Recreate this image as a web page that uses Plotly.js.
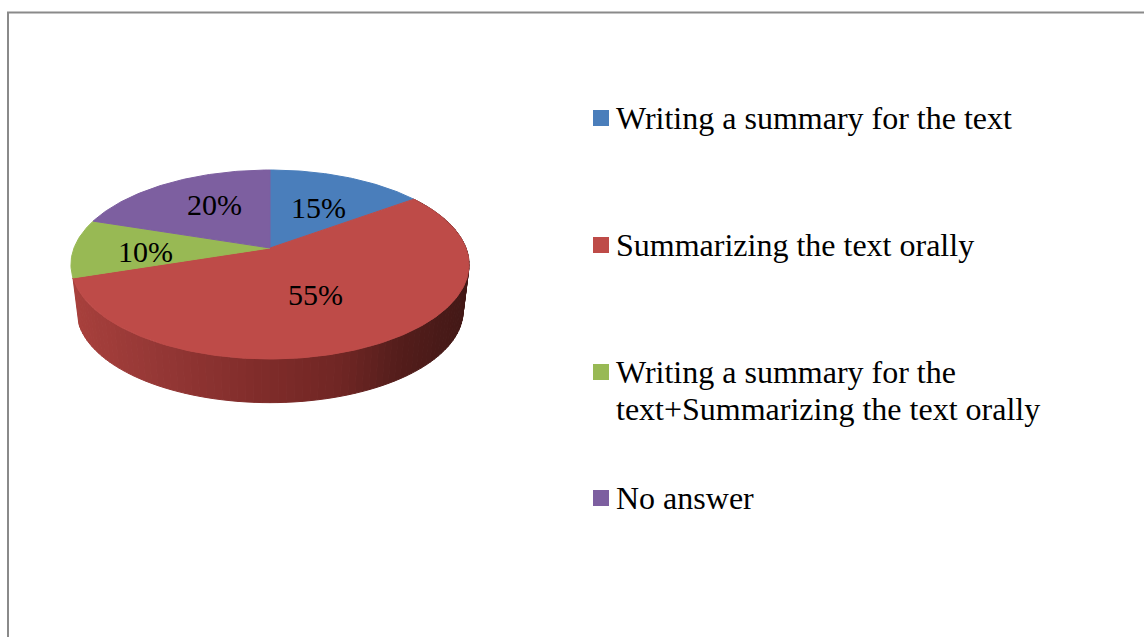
<!DOCTYPE html>
<html><head><meta charset="utf-8">
<script src="https://cdn.plot.ly/plotly-3.0.1.min.js"></script>
<style>html,body{margin:0;padding:0;background:#fff}#c{width:1144px;height:637px}</style>
</head><body><div id="c"></div>
<script>
const categories = ["Writing a summary for the text","Summarizing the text orally","Writing a summary for the text+Summarizing the text orally","No answer"];
const values = [15,55,10,20];
const colors = ["#4A7EBB","#BE4B48","#98B954","#7D5FA0"];
const percentLabels = ["15%","55%","10%","20%"];

// tilted-disc projection, in the axes' coordinate system
const CX=270, CY=248, B=196, A=91.6, K=0.1746, WALL_S=0.97, WALL_D=48;
function rim(deg, s, d){
  const t=deg*Math.PI/180, u=Math.sin(t), v=Math.cos(t), w=1+K*v;
  return [CX+s*B*u/w, CY-s*A*v/w+d];
}
const wallStops=[[70,[168,64,60]],[150,[150,56,54]],[260,[128,44,42]],[340,[112,38,36]],[400,[84,29,27]],[470,[66,24,22]]];
function wallColor(x){
  for(let i=1;i<wallStops.length;i++){
    if(x<=wallStops[i][0]){
      const a=wallStops[i-1],b=wallStops[i],f=Math.max(0,(x-a[0])/(b[0]-a[0]));
      return "rgb("+a[1].map((c,j)=>Math.round(c+(b[1][j]-c)*f)).join(",")+")";
    }
  }
  return "rgb(66,24,22)";
}
const total=values.reduce((a,b)=>a+b,0);
const traces=[];
// side wall of the slice facing the viewer
let acc=0; const bounds=values.map(v=>{const s=acc;acc+=v;return [s/total*360,acc/total*360];});
const red=bounds[1]; const STEP=2;
for(let a=red[0];a<red[1];a+=STEP){
  const b=Math.min(a+STEP,red[1]);
  const p=[rim(a,1,0),rim(b,1,0),rim(b,WALL_S,WALL_D-1),rim(a,WALL_S,WALL_D-1)];
  p.push(p[0]);
  const col=wallColor((p[0][0]+p[1][0])/2);
  traces.push({type:"scatter",mode:"lines",x:p.map(q=>q[0]),y:p.map(q=>q[1]),fill:"toself",fillcolor:col,line:{color:col,width:1},hoverinfo:"skip",showlegend:false});
}
// top face
bounds.forEach((r,i)=>{
  const xs=[CX],ys=[CY];
  for(let a=r[0];a<r[1];a+=1){const q=rim(a,1,0);xs.push(q[0]);ys.push(q[1]);}
  const e=rim(r[1],1,0);xs.push(e[0],CX);ys.push(e[1],CY);
  traces.push({type:"scatter",mode:"lines",x:xs,y:ys,fill:"toself",fillcolor:colors[i],line:{color:colors[i],width:1},name:categories[i],hoverinfo:"name",showlegend:false});
});
// legend swatches
const legendY=[118,245,372,498];
traces.push({type:"scatter",mode:"markers",x:values.map(()=>601),y:legendY,marker:{symbol:"square",size:16,color:colors,line:{width:0}},hoverinfo:"skip",showlegend:false});

const serif="'Liberation Serif','Times New Roman',serif";
const labelPos=[[318,207],[315,294],[145,251],[214,204]];
const annotations=percentLabels.map((t,i)=>({x:labelPos[i][0],y:labelPos[i][1],text:t,xref:"x",yref:"y",showarrow:false,font:{family:serif,size:30,color:"#000"}}));
const legendLines=[[categories[0],118],[categories[1],245],["Writing a summary for the",372],["text+Summarizing the text orally",409],[categories[3],498]];
legendLines.forEach(l=>annotations.push({x:614,y:l[1],text:l[0],xref:"x",yref:"y",xanchor:"left",showarrow:false,font:{family:serif,size:32,color:"#000"}}));

Plotly.newPlot("c",traces,{
  width:1144,height:637,margin:{l:0,r:0,t:0,b:0},paper_bgcolor:"#fff",plot_bgcolor:"#fff",showlegend:false,
  xaxis:{range:[0,1144],visible:false,fixedrange:true},
  yaxis:{range:[637,0],visible:false,fixedrange:true},
  annotations:annotations,
  shapes:[{type:"path",xref:"x",yref:"y",path:"M 8 637 L 8 12.5 L 1144 12.5",line:{color:"#8a8a8a",width:2}}]
},{displayModeBar:false,staticPlot:true});
</script></body></html>
